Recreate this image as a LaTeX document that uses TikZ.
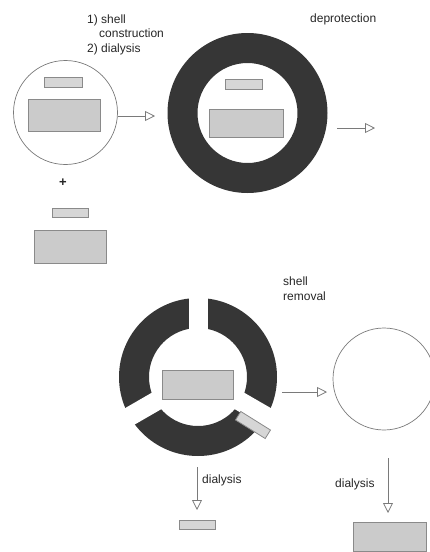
\documentclass[tikz,border=0pt]{standalone}
\usepackage{fontspec}
\setmainfont{Liberation Sans}
\usetikzlibrary{arrows.meta}
\definecolor{ringc}{HTML}{363636}
\definecolor{rectf}{HTML}{D6D6D6}
\definecolor{bigf}{HTML}{CBCBCB}
\definecolor{rectd}{HTML}{8A8A8A}
\definecolor{linec}{HTML}{7A7A7A}
\definecolor{txtc}{HTML}{262626}
\tikzset{
  smallbox/.style={draw=rectd, fill=rectf, line width=0.8pt, inner sep=0pt, minimum width=37pt, minimum height=10pt},
  bigbox/.style={draw=rectd, fill=bigf, line width=0.8pt, inner sep=0pt, minimum width=72pt, minimum height=32pt},
  cell/.style={draw=linec, line width=0.7pt, circle, inner sep=0pt},
  conn/.style={draw=linec, line width=0.8pt, -{Triangle[open, length=10pt, width=10pt]}},
  lbl/.style={anchor=base west, inner sep=0pt, text=txtc, font=\fontsize{12}{14.5}\selectfont, align=left},
}
\begin{document}
\begin{tikzpicture}[x=1pt,y=-1pt]
\useasboundingbox (0,0) rectangle (429,552);
% left capsule
\node[cell, minimum size=104pt] (c1) at (65.5,112.5) {};
\node[smallbox, minimum width=38pt] (s1) at (63,82) {};
\node[bigbox] (b1) at (64,115.5) {};
\node[lbl, anchor=center, font=\fontsize{13}{14}\selectfont\bfseries] (plus) at (63,183) {+};
\node[smallbox, minimum width=36pt, minimum height=9pt] (s2) at (70,212.5) {};
\node[bigbox, minimum height=33pt] (b2) at (70,246.5) {};
% labels (base = last line)
\node[lbl] (t1) at (87,52) {1) shell\\\hspace{12pt}construction\\2) dialysis};
\node[lbl] (t2) at (310,22) {deprotection};
\node[lbl] (t3) at (283,300) {shell\\removal};
\node[lbl] (t4) at (202,483) {dialysis};
\node[lbl] (t5) at (335,487) {dialysis};
% shell ring
\coordinate (r1) at (247.5,113);
\fill[ringc, even odd rule] (r1) circle (80) (r1) circle (50);
\node[smallbox] (s3) at (243.5,84) {};
\node[bigbox, minimum width=74pt, minimum height=28pt] (b3) at (246,123) {};
% broken ring (y axis is flipped: visual 90/210/330 = 270/150/30)
\coordinate (r2) at (198,377);
\fill[ringc, even odd rule] (r2) circle (79) (r2) circle (49);
\foreach \a in {270,150,30} \draw[white, line width=19pt] (r2) -- ++(\a:86);
\node[bigbox, minimum width=71pt, minimum height=29pt] (b4) at (197.5,384.5) {};
\node[smallbox, minimum width=35pt, rotate=-32] (s4) at (253,425) {};
\node[smallbox, minimum width=36pt, minimum height=9pt] (s5) at (197,525) {};
% right empty capsule
\node[cell, minimum size=102pt] (c2) at (384,379) {};
\node[bigbox, minimum width=73pt, minimum height=29pt] (b5) at (389.5,536.5) {};
% connectors
\coordinate (a1s) at (118,116); \coordinate (a1e) at (155,116);
\coordinate (a2s) at (337,128); \coordinate (a2e) at (375,128);
\coordinate (a3s) at (282,392); \coordinate (a3e) at (327,392);
\coordinate (a4s) at (388,458); \coordinate (a4e) at (388,513);
\coordinate (a5s) at (197,467); \coordinate (a5e) at (197,510);
\draw[conn] (a1s) -- (a1e);
\draw[conn] (a2s) -- (a2e);
\draw[conn] (a3s) -- (a3e);
\draw[conn] (a4s) -- (a4e);
\draw[conn] (a5s) -- (a5e);
\end{tikzpicture}
\end{document}
